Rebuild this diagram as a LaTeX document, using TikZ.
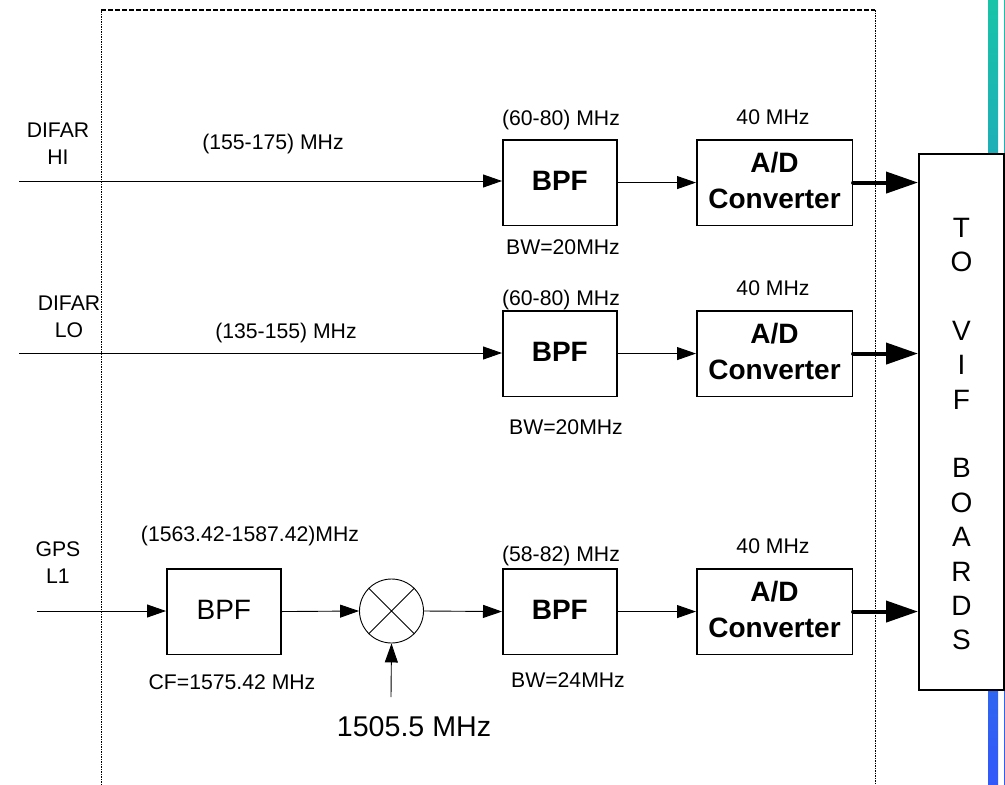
\documentclass[tikz,border=0pt]{standalone}
\usepackage{fontspec}
\setmainfont{Liberation Sans}
\usetikzlibrary{arrows.meta,shapes.misc,calc}
\definecolor{stripTop}{RGB}{24,196,168}
\definecolor{stripBot}{RGB}{50,88,250}
\tikzset{
 x=1pt,y=-1pt,
 blockbox/.style={draw=black,line width=1.6pt,minimum width=114pt,minimum height=85.5pt,inner sep=0pt,anchor=north west,align=center,text depth=3pt},
 adbox/.style={blockbox,minimum width=155.5pt,text depth=4pt,font=\fontsize{28}{36}\selectfont\bfseries},
 bpfbold/.style={blockbox,font=\fontsize{28}{34}\selectfont\bfseries},
 lab/.style={inner sep=0pt,align=center,font=\fontsize{21.2}{27}\selectfont},
 sig/.style={draw=black,line width=0.9pt,-{Triangle[length=19pt,width=13pt]}},
 thick sig/.style={draw=black,line width=4pt,line cap=round,-{Triangle[length=32pt,width=21pt]}},
 framev/.style={draw=black,line width=0.9pt,dash pattern=on 1.5pt off 1pt},
 frameh/.style={draw=black,line width=1.2pt,dash pattern=on 4.5pt off 2.5pt},
}
\begin{document}
\begin{tikzpicture}
\useasboundingbox (0,0) rectangle (1005,785);
% gradient strips
\shade[top color=stripTop,bottom color=stripBot] (988,0) rectangle (998,785);
\shade[top color=stripTop,bottom color=stripBot] (1004,0) rectangle (1005,785);
% dashed frame
\coordinate (fbl) at (101,785);
\coordinate (ftl) at (101,10);
\coordinate (ftr) at (875,10);
\coordinate (fbr) at (875,785);
\draw[framev] (fbl) -- (ftl);
\draw[frameh] (ftl) -- (ftr);
\draw[framev] (ftr) -- (fbr);
% blocks
\node[bpfbold] (bpfa) at (502,139) {BPF};
\node[adbox] (ada) at (696,139) {A/D\\Converter};
\node[bpfbold] (bpfb) at (502,310) {BPF};
\node[adbox] (adb) at (696,310) {A/D\\Converter};
\node[blockbox,font=\fontsize{28}{34}\selectfont] (bpfin) at (166,568) {BPF};
\node[bpfbold] (bpfc) at (502,568) {BPF};
\node[adbox] (adc) at (696,568) {A/D\\Converter};
\node[draw=black,line width=2.2pt,fill=white,minimum width=85pt,minimum height=536pt,inner sep=0pt,anchor=north west] (vif) at (918,153) {};
\node[inner sep=0pt,align=center,font=\fontsize{28}{34.4}\selectfont] (viftext) at (961.5,434) {T\\O\\[34.4pt]V\\I\\F\\[34.4pt]B\\O\\A\\R\\D\\S};
% mixer
\node[circle,draw=black,line width=0.9pt,minimum size=64pt,inner sep=0pt] (mix) at (391.5,611) {};
\draw[line width=0.9pt] (mix.45) -- (mix.225) (mix.135) -- (mix.315);
% free ends
\coordinate (ina) at (19,181);
\coordinate (inb) at (19,353);
\coordinate (inc) at (37,611);
\coordinate (lo) at (391,697);
% connectors
\draw[sig] (ina) -- (bpfa.west |- ina);
\draw[sig] (bpfa.east) -- (ada.west);
\draw[thick sig] (ada.east) -- (vif.west |- ada.east);
\draw[sig] (inb) -- (bpfb.west |- inb);
\draw[sig] (bpfb.east) -- (adb.west);
\draw[thick sig] (adb.east) -- (vif.west |- adb.east);
\draw[sig] (inc) -- (bpfin.west |- inc);
\draw[sig] (bpfin.east) -- (mix.west);
\draw[sig] (mix.east) -- (bpfc.west);
\draw[sig] (bpfc.east) -- (adc.west);
\draw[thick sig] (adc.east) -- (vif.west |- adc.east);
\draw[sig] (lo) -- (mix.south);
% labels
\node[lab] (l1) at (58,144) {DIFAR\\HI};
\node[lab] (l2) at (273,144) {(155-175) MHz};
\node[lab] (l3) at (561,120) {(60-80) MHz};
\node[lab] (l4) at (773,117) {40 MHz};
\node[lab] (l5) at (563,247) {BW=20MHz};
\node[lab] (l6) at (69,317) {DIFAR\\LO};
\node[lab] (l7) at (286,333) {(135-155) MHz};
\node[lab] (l8) at (561,300) {(60-80) MHz};
\node[lab] (l9) at (773,288) {40 MHz};
\node[lab] (l10) at (566,427) {BW=20MHz};
\node[lab] (l11) at (58,563) {GPS\\L1};
\node[lab] (l12) at (250,536) {(1563.42-1587.42)MHz};
\node[lab] (l13) at (232,682) {CF=1575.42 MHz};
\node[lab] (l14) at (561,556) {(58-82) MHz};
\node[lab] (l15) at (773,546) {40 MHz};
\node[lab] (l16) at (568,680) {BW=24MHz};
\node[lab,font=\fontsize{28.6}{32}\selectfont] (l17) at (414,727) {1505.5 MHz};
\end{tikzpicture}
\end{document}
